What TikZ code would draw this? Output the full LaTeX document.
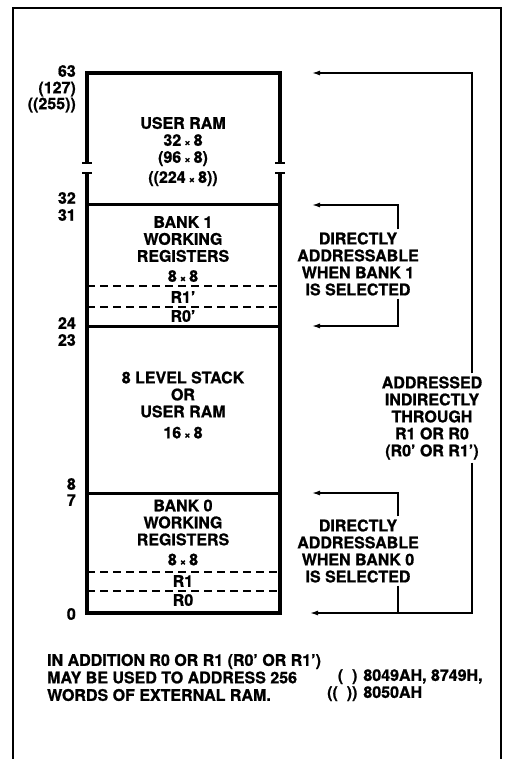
\documentclass[tikz,border=0pt]{standalone}
\usepackage{fontspec}
\setmainfont{TeX Gyre Heros}[BoldFeatures={FakeBold=1}]
\usetikzlibrary{arrows.meta}
\newcommand{\xsign}{\hspace{3pt}{\fontsize{11}{11}\selectfont×}\hspace{3pt}}

\begin{document}
\begin{tikzpicture}[
  x=1pt, y=-1pt,
  every node/.style={font=\fontsize{16}{17}\selectfont\bfseries},
  outline/.style={line width=2pt},
  wall/.style={line width=4.5pt},
  divider/.style={line width=3pt},
  breaktick/.style={line width=2.5pt},
  regline/.style={line width=1.5pt,dash pattern=on 8pt off 5pt},
  addr/.style={anchor=east,inner sep=0pt,text height=11.5pt,text depth=0pt},
  cell/.style={align=center,inner sep=0pt},
  note/.style={align=center,inner sep=3pt},
  link/.style={line width=1.4pt},
  feed/.style={link,-{Latex[length=8pt,width=5pt]}}
]
  \useasboundingbox (0,0) rectangle (504,759);
  \draw[outline] (13,762) -- (13,8) -- (501,8) -- (501,762);

  \draw[wall] (87,163) -- (87,73) -- (280,73) -- (280,163);
  \draw[wall] (87,173) -- (87,613) -- (280,613) -- (280,173);
  \draw[breaktick] (82,163) -- (92,163) (82,173) -- (92,173);
  \draw[breaktick] (275,163) -- (285,163) (275,173) -- (285,173);
  \draw[divider] (87,205) -- (280,205);
  \draw[divider] (87,326) -- (280,326);
  \draw[divider] (87,493) -- (280,493);
  \draw[regline] (87,286) -- (280,286);
  \draw[regline] (87,307) -- (280,307);
  \draw[regline] (87,572) -- (280,572);
  \draw[regline] (87,591) -- (280,591);

  \node[cell] (userram) at (183,151.5) {USER RAM\\32\xsign8\\(96\xsign8)\\[3pt]((224\xsign8))};
  \node[cell] (bankone) at (183,249) {BANK 1\\WORKING\\REGISTERS\\[3pt]8\xsign8};
  \node[cell] (roneb) at (183,297) {R1'};
  \node[cell] (rzerob) at (183,316) {R0'};
  \node[cell] (stack) at (183,405) {8 LEVEL STACK\\OR\\USER RAM\\[4pt]16\xsign8};
  \node[cell] (bankzero) at (183,532.5) {BANK 0\\WORKING\\REGISTERS\\[3pt]8\xsign8};
  \node[cell] (rone) at (183,581) {R1};
  \node[cell] (rzero) at (183,600) {R0};

  \node[addr] (a63) at (76,71) {63};
  \node[addr] (a127) at (76,87.5) {(127)};
  \node[addr] (a255) at (76,103.5) {((255))};
  \node[addr] (a32) at (76,198) {32};
  \node[addr] (a31) at (76,215) {31};
  \node[addr] (a24) at (76,323) {24};
  \node[addr] (a23) at (76,340) {23};
  \node[addr] (a8) at (76,484) {8};
  \node[addr] (a7) at (76,500) {7};
  \node[addr] (a0) at (76,614) {0};

  \node[note] (direct1) at (358,264) {DIRECTLY\\ADDRESSABLE\\WHEN BANK 1\\IS SELECTED};
  \node[note] (indirect) at (432,418) {ADDRESSED\\INDIRECTLY\\THROUGH\\R1 OR R0\\(R0' OR R1')};
  \node[note] (direct0) at (358,551) {DIRECTLY\\ADDRESSABLE\\WHEN BANK 0\\IS SELECTED};

  \coordinate (in63) at (312,73);
  \coordinate (in32) at (312,205);
  \coordinate (in24) at (312,326);
  \coordinate (in8) at (312,493);
  \coordinate (in0) at (310,613);
  \coordinate (sel1) at (398,205);
  \coordinate (sel0) at (398,493);
  \coordinate (allx) at (472,73);

  \draw[feed] (sel1 |- direct1.north) -- (sel1) -- (in32);
  \draw[feed] (sel1 |- direct1.south) |- (in24);
  \draw[feed] (sel0 |- direct0.north) -- (sel0) -- (in8);
  \draw[link] (sel0 |- direct0.south) -- (sel0 |- in0);
  \draw[feed] (allx |- indirect.north) -- (allx) -- (in63);
  \draw[feed] (allx |- indirect.south) |- (in0);

  \node[align=left,anchor=west,inner sep=0pt] (extra) at (47,677.5) {IN ADDITION R0 OR R1 (R0' OR R1')\\[0.5pt]MAY BE USED TO ADDRESS 256\\[0.5pt]WORDS OF EXTERNAL RAM.};
  \node[anchor=west,inner sep=0pt] (parts) at (327,686) {\begin{tabular}{@{}r@{\hskip 6pt}l@{}}(\ \ ) & 8049AH, 8749H,\\((\ \ )) & 8050AH\end{tabular}};
\end{tikzpicture}
\end{document}
